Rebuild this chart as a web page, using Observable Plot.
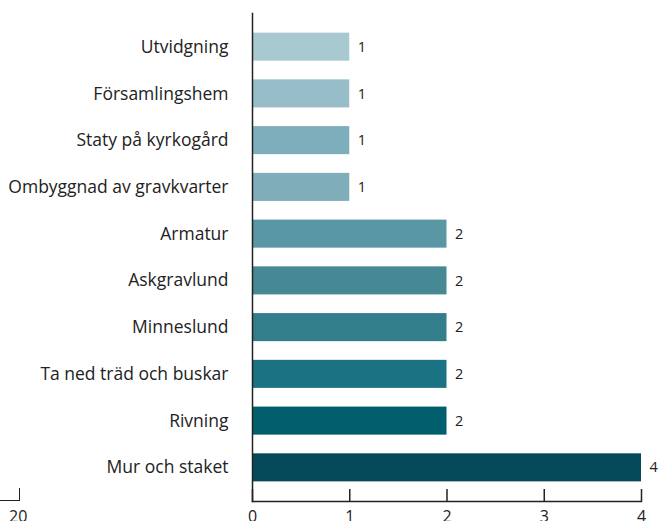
<!DOCTYPE html>
<html>
<head>
<meta charset="utf-8">
<script src="https://cdn.jsdelivr.net/npm/d3@7"></script>
<script src="https://cdn.jsdelivr.net/npm/@observablehq/plot@0.6"></script>
<style>
  html, body { margin: 0; padding: 0; background: #fff; overflow: hidden; }
  #wrap { position: relative; width: 660px; height: 521px; }
  #frag { position: absolute; left: 0; top: 488px; width: 19px; height: 12px;
          border-right: 1.5px solid #222; border-bottom: 1.5px solid #222; }
  #fragLabel { position: absolute; left: 9px; top: 505px; font: 16px "Open Sans", sans-serif; color: #222; }
</style>
</head>
<body>
<div id="wrap">
  <div id="chart"></div>
  <div id="frag"></div>
  <div id="fragLabel">20</div>
</div>
<script>
const categories = [
  "Utvidgning",
  "Församlingshem",
  "Staty på kyrkogård",
  "Ombyggnad av gravkvarter",
  "Armatur",
  "Askgravlund",
  "Minneslund",
  "Ta ned träd och buskar",
  "Rivning",
  "Mur och staket"
];
const values = [1, 1, 1, 1, 2, 2, 2, 2, 2, 4];
const colors = ["#a9c9d1", "#97bec8", "#7eaebb", "#7fadba", "#5a97a5", "#468995", "#337e8b", "#1a7282", "#005e6d", "#044a5b"];
const xTicks = [0, 1, 2, 3, 4];

const data = categories.map((c, i) => ({category: c, value: values[i], color: colors[i]}));

const chart = Plot.plot({
  width: 660,
  height: 521,
  marginLeft: 252,
  marginRight: 19,
  marginTop: 13,
  marginBottom: 20,
  style: {fontFamily: "'Open Sans', sans-serif", color: "#222", background: "#fff"},
  x: {domain: [0, 4]},
  y: {domain: categories, paddingInner: 0.4, paddingOuter: 0.42, round: false},
  marks: [
    Plot.barX(data, {y: "category", x: "value", fill: "color"}),
    Plot.text(data, {y: "category", x: "value", text: d => String(d.value), textAnchor: "start", dx: 8, fontSize: 14.5, fill: "#222"}),
    Plot.axisY({tickSize: 0, tickPadding: 24, fontSize: 17.5, label: null}),
    Plot.axisX({ticks: xTicks, tickFormat: "d", tickSize: -12, tickPadding: 21, strokeWidth: 1.5, fontSize: 16, lineAnchor: "top", label: null}),
    Plot.frame({anchor: "left", strokeWidth: 1.5}),
    Plot.frame({anchor: "bottom", strokeWidth: 1.5})
  ]
});
document.getElementById("chart").appendChild(chart);
</script>
</body>
</html>
